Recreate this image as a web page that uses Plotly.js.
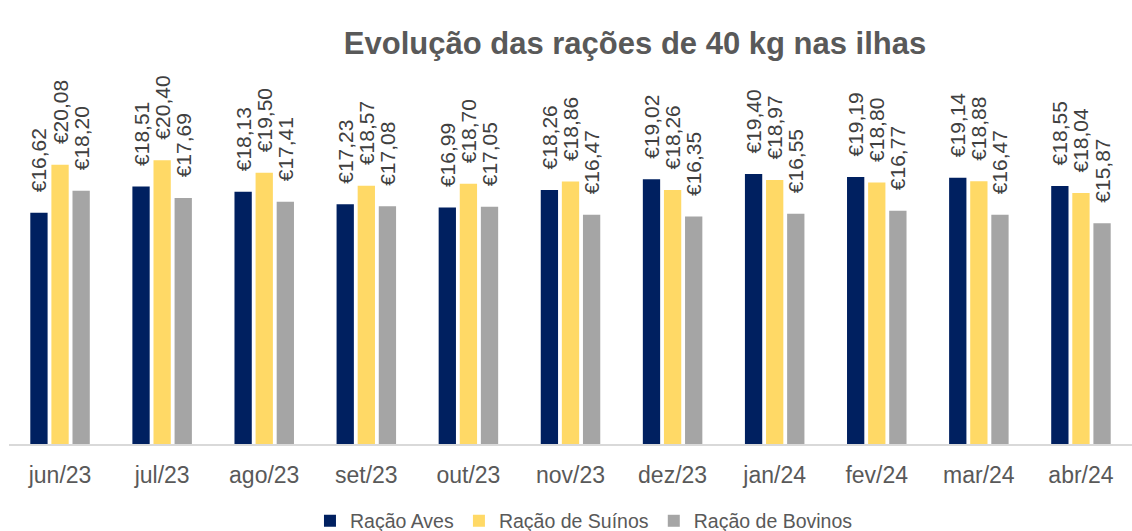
<!DOCTYPE html>
<html>
<head>
<meta charset="utf-8">
<script src="https://cdn.plot.ly/plotly-3.0.1.min.js"></script>
<style>html,body{margin:0;padding:0;background:#fff;}#chart{width:1132px;height:531px;}</style>
</head>
<body>
<div id="chart"></div>
<script>
const months = ["jun/23","jul/23","ago/23","set/23","out/23","nov/23","dez/23","jan/24","fev/24","mar/24","abr/24"];
const aves = [16.62,18.51,18.13,17.23,16.99,18.26,19.02,19.40,19.19,19.14,18.55];
const suinos = [20.08,20.40,19.50,18.57,18.70,18.86,18.26,18.97,18.80,18.88,18.04];
const bovinos = [18.20,17.69,17.41,17.08,17.05,16.47,16.35,16.55,16.77,16.47,15.87];
const seriesNames = ["Ração Aves","Ração de Suínos","Ração de Bovinos"];
const colors = ["#002060","#FFD966","#A5A5A5"];
const fmt = v => "\u00a0\u00a0\u00a0€" + v.toFixed(2).replace(".", ",");
const FONT = "Liberation Sans, Arial, sans-serif";
const traces = [aves, suinos, bovinos].map((vals, i) => ({
  type: "bar", x: months, y: vals, name: seriesNames[i],
  marker: {color: colors[i]},
  text: vals.map(fmt), textposition: "outside", textangle: -90,
  constraintext: "none",
  cliponaxis: false,
  textfont: {family: FONT, size: 21, color: "#404040"},
  hoverinfo: "x+y"
}));
const layout = {
  width: 1132, height: 531,
  margin: {l: 9, r: 0, t: 60, b: 87, autoexpand: false},
  paper_bgcolor: "#fff", plot_bgcolor: "#fff",
  title: {text: "<b>Evolução das rações de 40 kg nas ilhas</b>", x: 0.561, xref: "container", xanchor: "center", y: 0.94, yref: "container",
    font: {family: FONT, size: 31, color: "#595959"}},
  barmode: "group", bargap: 0.38, bargroupgap: 0.18,
  xaxis: {showline: true, linecolor: "#D9D9D9", linewidth: 1.5, ticks: "", showgrid: false, automargin: false,
    ticklabelstandoff: 10,
    tickfont: {family: FONT, size: 23, color: "#595959"}},
  yaxis: {range: [0, 27.6], visible: false, showgrid: false, zeroline: false, automargin: false},
  showlegend: true,
  legend: {orientation: "h", x: 0.512, xanchor: "center", y: -0.15, yanchor: "top",
    font: {family: FONT, size: 19.5, color: "#595959"}, itemwidth: 30, traceorder: "normal"}
};
Plotly.newPlot("chart", traces, layout, {displayModeBar: false, staticPlot: true});
</script>
</body>
</html>
